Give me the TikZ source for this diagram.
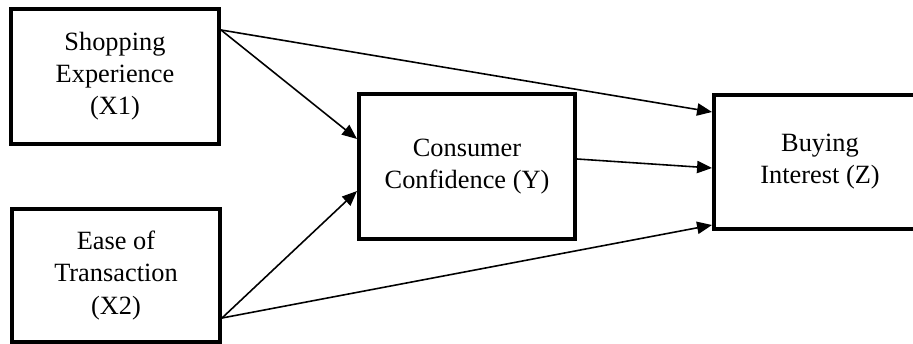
\documentclass[tikz,border=0pt]{standalone}
\usepackage{fontspec}
\setmainfont{Liberation Serif}
\usetikzlibrary{arrows.meta}

\begin{document}
\begin{tikzpicture}[x = 0.02cm, y = -0.02cm,
    box/.style = {shape = rectangle, draw, line width = 2.3pt, align = center, font = \fontsize{15}{18.3}\selectfont},
    link/.style = {line width = 0.9pt, -{Triangle[length = 8.5pt, width = 7pt]}}]
    \useasboundingbox (0,0) rectangle (913,344);
    \node[box, minimum width = 4.16cm, minimum height = 2.7cm] (X1) at (115,76.5) {Shopping\\Experience\\(X1)};
    \node[box, minimum width = 4.16cm, minimum height = 2.66cm] (X2) at (116,275.5) {Ease of\\Transaction\\(X2)};
    \node[box, minimum width = 4.32cm, minimum height = 2.9cm] (Y) at (467,166.5) {Consumer\\Confidence (Y)};
    \node[box, minimum width = 4.24cm, minimum height = 2.68cm] (Z) at (820,162) {Buying\\Interest (Z)};
    \draw[link] ([yshift = -0.46cm]X1.north east) -- ([yshift = -0.38cm]Z.north west);
    \draw[link] ([yshift = -0.46cm]X1.north east) -- ([yshift = -0.94cm]Y.north west);
    \draw[link] ([yshift = 0.52cm]X2.south east) -- ([yshift = 1.0cm]Y.south west);
    \draw[link] ([yshift = 0.52cm]X2.south east) -- ([yshift = 0.12cm]Z.south west);
    \draw[link] ([yshift = 0.15cm]Y.east) -- ([yshift = -0.12cm]Z.west);
\end{tikzpicture}
\end{document}
